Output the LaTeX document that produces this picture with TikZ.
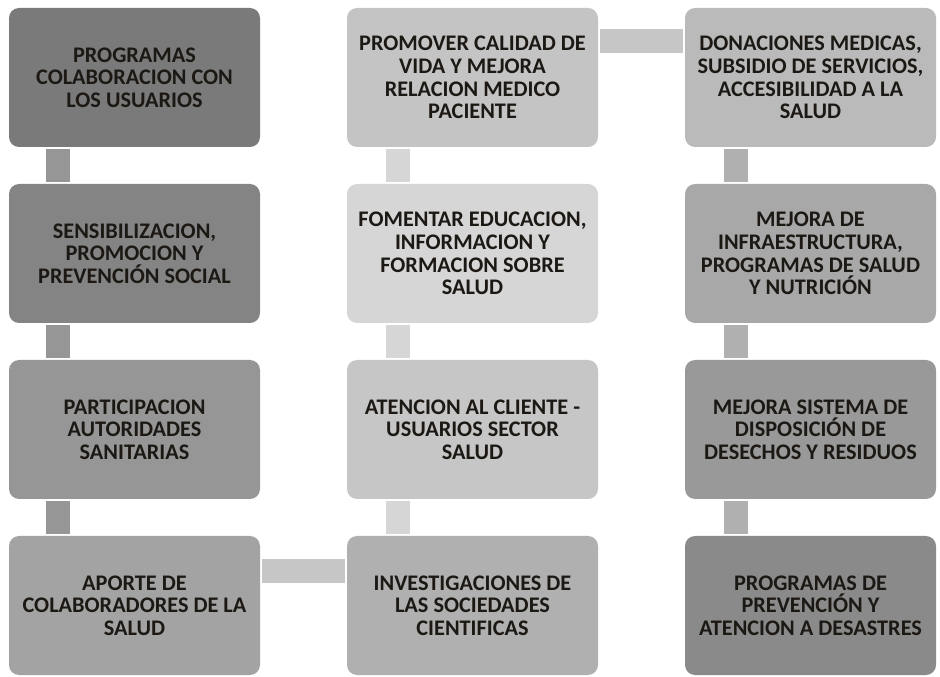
\documentclass[tikz,border=0pt]{standalone}
\usepackage{fontspec}
\setmainfont{Carlito}
\usepackage{tikz}

\definecolor{gA}{RGB}{122,122,122}
\definecolor{gB}{RGB}{132,132,132}
\definecolor{gC}{RGB}{150,150,150}
\definecolor{gD}{RGB}{163,163,163}
\definecolor{gE}{RGB}{196,196,196}
\definecolor{gF}{RGB}{214,214,214}
\definecolor{gG}{RGB}{198,198,198}
\definecolor{gH}{RGB}{176,176,176}
\definecolor{gI}{RGB}{186,186,186}
\definecolor{gJ}{RGB}{168,168,168}
\definecolor{gK}{RGB}{153,153,153}
\definecolor{gL}{RGB}{138,138,138}
\definecolor{txt}{RGB}{28,24,20}

\tikzset{
  box/.style={rectangle, rounded corners=7.5pt, draw=none, minimum width=188.25pt,
    minimum height=104.25pt, inner sep=0pt, align=center, text=txt,
    font=\fontsize{16.7}{17}\selectfont\bfseries},
  bar/.style={line width=18pt, line cap=butt, shorten <=1.5pt, shorten >=1.5pt}
}

\begin{document}
\begin{tikzpicture}[x=0.75pt,y=0.75pt,yscale=-1,xscale=1]
\useasboundingbox (0,0) rectangle (940,677);

% Column 1
\node[box, fill=gA] (prog) at (134.5,77.5) {PROGRAMAS\\COLABORACION CON\\LOS USUARIOS};
\node[box, fill=gB] (sens) at (134.5,253.5) {SENSIBILIZACION,\\PROMOCION Y\\PREVENCIÓN SOCIAL};
\node[box, fill=gC] (part) at (134.5,429.5) {PARTICIPACION\\AUTORIDADES\\SANITARIAS};
\node[box, fill=gD] (apor) at (134.5,605.5) {APORTE DE\\COLABORADORES DE LA\\SALUD};

% Column 2
\node[box, fill=gE] (prom) at (472.5,77.5) {PROMOVER CALIDAD DE\\VIDA Y MEJORA\\RELACION MEDICO\\PACIENTE};
\node[box, fill=gF] (fome) at (472.5,253.5) {FOMENTAR EDUCACION,\\INFORMACION Y\\FORMACION SOBRE\\SALUD};
\node[box, fill=gG] (aten) at (472.5,429.5) {ATENCION AL CLIENTE -\\USUARIOS SECTOR\\SALUD};
\node[box, fill=gH] (inve) at (472.5,605.5) {INVESTIGACIONES DE\\LAS SOCIEDADES\\CIENTIFICAS};

% Column 3
\node[box, fill=gI] (dona) at (810.5,77.5) {DONACIONES MEDICAS,\\SUBSIDIO DE SERVICIOS,\\ACCESIBILIDAD A LA\\SALUD};
\node[box, fill=gJ] (infr) at (810.5,253.5) {MEJORA DE\\INFRAESTRUCTURA,\\PROGRAMAS DE SALUD\\Y NUTRICIÓN};
\node[box, fill=gK] (dese) at (810.5,429.5) {MEJORA SISTEMA DE\\DISPOSICIÓN DE\\DESECHOS Y RESIDUOS};
\node[box, fill=gL] (desa) at (810.5,605.5) {PROGRAMAS DE\\PREVENCIÓN Y\\ATENCION A DESASTRES};

% Vertical bars
\draw[bar, color=gC] ([xshift=-76.5pt*0.75]prog.south) -- ([xshift=-76.5pt*0.75]sens.north);
\draw[bar, color=gC] ([xshift=-76.5pt*0.75]sens.south) -- ([xshift=-76.5pt*0.75]part.north);
\draw[bar, color=gC] ([xshift=-76.5pt*0.75]part.south) -- ([xshift=-76.5pt*0.75]apor.north);
\draw[bar, color=gF] ([xshift=-74.5pt*0.75]prom.south) -- ([xshift=-74.5pt*0.75]fome.north);
\draw[bar, color=gF] ([xshift=-74.5pt*0.75]fome.south) -- ([xshift=-74.5pt*0.75]aten.north);
\draw[bar, color=gF] ([xshift=-74.5pt*0.75]aten.south) -- ([xshift=-74.5pt*0.75]inve.north);
\draw[bar, color=gH] ([xshift=-75pt*0.75]dona.south) -- ([xshift=-75pt*0.75]infr.north);
\draw[bar, color=gH] ([xshift=-75pt*0.75]infr.south) -- ([xshift=-75pt*0.75]dese.north);
\draw[bar, color=gH] ([xshift=-75pt*0.75]dese.south) -- ([xshift=-75pt*0.75]desa.north);

% Horizontal bars
\draw[bar, color=gG] ([yshift=-36.5pt*0.75]prom.east) -- ([yshift=-36.5pt*0.75]dona.west);
\draw[bar, color=gG] ([yshift=-35pt*0.75]apor.east) -- ([yshift=-35pt*0.75]inve.west);

\end{tikzpicture}
\end{document}
